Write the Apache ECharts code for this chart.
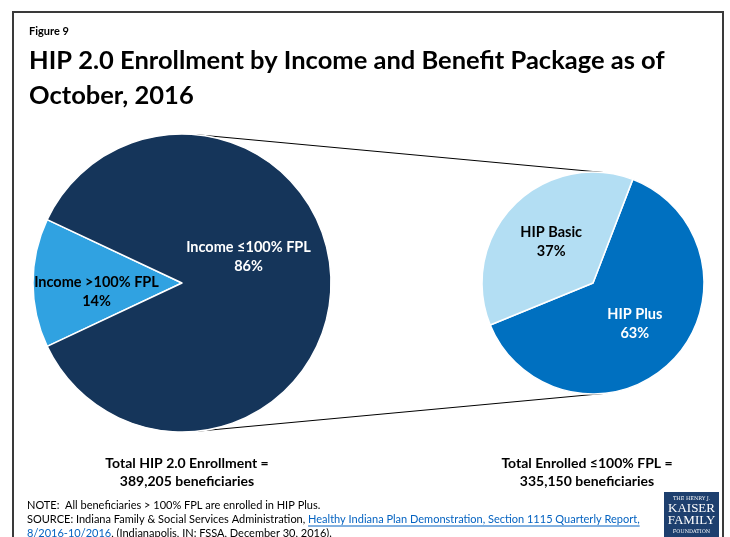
<!DOCTYPE html>
<html><head><meta charset="utf-8">
<script src="https://cdn.jsdelivr.net/npm/echarts@6/dist/echarts.min.js"></script>
<style>html,body{margin:0;padding:0;background:#fff}#c{width:730px;height:537px}</style>
</head><body><div id="c"></div>
<script>
// ---- data ----
var incomeNames = ['Income >100% FPL', 'Income \u2264100% FPL'];
var incomeValues = [14, 86];
var packageNames = ['HIP Plus', 'HIP Basic'];
var packageValues = [63, 37];
var totalLeftLabel = ['Total HIP 2.0 Enrollment =', '389,205 beneficiaries'];
var totalRightLabel = ['Total Enrolled \u2264100% FPL =', '335,150 beneficiaries'];
var figureLabel = 'Figure 9';
var titleLines = ['HIP 2.0 Enrollment by Income and Benefit Package as of', 'October, 2016'];
var noteLine = 'NOTE:  All beneficiaries > 100% FPL are enrolled in HIP Plus.';
var sourcePre = 'SOURCE: Indiana Family & Social Services Administration, ';
var sourceLink1 = 'Healthy Indiana Plan Demonstration, Section 1115 Quarterly Report,';
var sourceLink2 = '8/2016-10/2016';
var sourcePost = ', (Indianapolis, IN: FSSA, December 30, 2016).';

// ---- layout ----
var FONT = 'Lato, "Open Sans", sans-serif';
var L = {cx: 182, cy: 283, r: 149};
var R = {cx: 593, cy: 283, r: 111};
var smallHalf = incomeValues[0] / (incomeValues[0] + incomeValues[1]) * 360 / 2;

function tangents() {
  var dx = R.cx - L.cx, dy = R.cy - L.cy, d = Math.sqrt(dx*dx + dy*dy);
  var ux = dx/d, uy = dy/d, k = (L.r - R.r)/d, h = Math.sqrt(1 - k*k);
  var out = [];
  [-1, 1].forEach(function(s){
    var nx = k*ux - s*h*uy, ny = k*uy + s*h*ux;
    out.push([[L.cx + L.r*nx, L.cy + L.r*ny],[R.cx + R.r*nx, R.cy + R.r*ny]]);
  });
  return out;
}

var mc = document.createElement('canvas').getContext('2d');
function tw(t, f){ mc.font = f; return mc.measureText(t).width; }

var noteFont = '11px ' + FONT;
var graphics = [];
// frame
graphics.push({type:'rect', shape:{x:13, y:12, width:710, height:540}, style:{fill:null, stroke:'#3a3a3a', lineWidth:2}, z:0});
// connector lines
tangents().forEach(function(p){
  graphics.push({type:'line', shape:{x1:p[0][0], y1:p[0][1], x2:p[1][0], y2:p[1][1]}, style:{stroke:'#000', lineWidth:1}, z:1});
});
graphics.push({type:'text', left:29, top:26, style:{text:figureLabel, font:'bold 11px ' + FONT, fill:'#000'}});
graphics.push({type:'text', left:29, top:43, style:{text:titleLines.join('\n'), font:'bold 25.5px ' + FONT, lineHeight:35, fill:'#000'}});
graphics.push({type:'text', x:187, y:454, style:{text:totalLeftLabel.join('\n'), font:'bold 14px ' + FONT, lineHeight:18, align:'center', fill:'#000'}});
graphics.push({type:'text', x:587, y:454, style:{text:totalRightLabel.join('\n'), font:'bold 14px ' + FONT, lineHeight:18, align:'center', fill:'#000'}});
// notes
var nx = 27;
graphics.push({type:'text', x:nx, y:500, style:{text:noteLine, font:noteFont, fill:'#000'}});
graphics.push({type:'text', x:nx, y:514, style:{text:sourcePre, font:noteFont, fill:'#000'}});
var x1 = nx + tw(sourcePre, noteFont);
graphics.push({type:'text', x:x1, y:514, style:{text:sourceLink1, font:noteFont, fill:'#0563C1'}});
graphics.push({type:'line', shape:{x1:x1, y1:526, x2:x1 + tw(sourceLink1, noteFont), y2:526}, style:{stroke:'#0563C1', lineWidth:1}});
graphics.push({type:'text', x:nx, y:528, style:{text:sourceLink2, font:noteFont, fill:'#0563C1'}});
var w2 = tw(sourceLink2, noteFont);
graphics.push({type:'line', shape:{x1:nx, y1:540, x2:nx + w2, y2:540}, style:{stroke:'#0563C1', lineWidth:1}});
graphics.push({type:'text', x:nx + w2, y:528, style:{text:sourcePost, font:noteFont, fill:'#000'}});
// logo
graphics.push({type:'rect', shape:{x:664, y:492, width:55, height:46}, style:{fill:'#1D3F6E'}});
graphics.push({type:'text', x:691.5, y:496, style:{text:'THE HENRY J.', font:'5px "DejaVu Serif", serif', fill:'#fff', align:'center'}});
graphics.push({type:'text', x:691.5, y:503, style:{text:'KAISER\nFAMILY', font:'13px "Liberation Serif", serif', lineHeight:12, fill:'#fff', align:'center'}});
graphics.push({type:'text', x:691.5, y:529, style:{text:'FOUNDATION', font:'5px "DejaVu Serif", serif', fill:'#fff', align:'center'}});

var labelStyle = {show:true, position:'inside', formatter:'{b}\n{c}%', fontFamily:FONT, fontWeight:'bold', fontSize:14.5, lineHeight:19};

var option = {
  animation:false,
  graphic: graphics,
  series: [
    {
      type:'pie', center:[L.cx, L.cy], radius:[0, L.r], startAngle:180 + smallHalf, clockwise:true,
      silent:true, z:2,
      itemStyle:{borderColor:'#fff', borderWidth:1.5},
      label: labelStyle,
      labelLine:{show:false},
      labelLayout: function(p){ return p.dataIndex === 0 ? {dx:-8, dy:9} : {dx:-11, dy:-26}; },
      data: incomeNames.map(function(n, i){
        return {name:n, value:incomeValues[i],
          itemStyle:{color: i === 0 ? '#30A2E1' : '#15355A'},
          label:{color: i === 0 ? '#000' : '#fff'}};
      })
    },
    {
      type:'pie', center:[R.cx, R.cy], radius:[0, R.r], startAngle:69, clockwise:true,
      silent:true, z:2,
      itemStyle:{borderColor:'#fff', borderWidth:1.5},
      label: labelStyle,
      labelLine:{show:false},
      data: packageNames.map(function(n, i){
        return {name:n, value:packageValues[i],
          itemStyle:{color: i === 0 ? '#0070C0' : '#B3DEF3'},
          label:{color: i === 0 ? '#fff' : '#000'}};
      })
    }
  ]
};
var chart = echarts.init(document.getElementById('c'), null, {renderer:'canvas'});
chart.setOption(option);
</script></body></html>
